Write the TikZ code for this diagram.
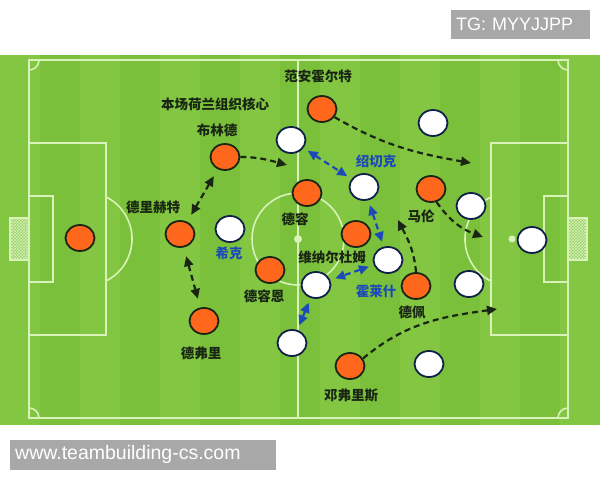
\documentclass[tikz,border=0pt]{standalone}
\usepackage{fontspec}
\setmainfont{Liberation Sans}
\newfontfamily\cjk{Noto Sans CJK SC}
\usetikzlibrary{arrows.meta}
\usetikzlibrary{shapes.geometric}
\usetikzlibrary{patterns}

\definecolor{rasen}{RGB}{122,192,58}
\definecolor{rasenb}{RGB}{130,198,66}
\definecolor{lijn}{RGB}{216,242,186}
\definecolor{net}{RGB}{150,208,100}
\definecolor{oranje}{RGB}{255,104,28}
\definecolor{donker}{RGB}{26,38,20}
\definecolor{navy}{RGB}{16,32,72}
\definecolor{blauw}{RGB}{28,74,184}
\definecolor{grijs}{RGB}{168,168,168}

\begin{document}
\begin{tikzpicture}[x=1pt,y=1pt,
  ned/.style={ellipse,draw=donker,line width=1.8pt,fill=oranje,
              minimum width=29pt,minimum height=26pt,inner sep=0pt},
  cze/.style={ned,draw=navy,fill=white},
  naam/.style={text=donker,inner sep=0pt,
               font=\cjk\bfseries\fontsize{13.5}{14}\selectfont},
  naamcz/.style={naam,text=blauw},
  lijnen/.style={draw=lijn,line width=1.6pt},
  kader/.style={fill=grijs,text=white,inner ysep=0pt,inner xsep=5pt,
                align=left,anchor=south west}]
\useasboundingbox (0,0) rectangle (600,480);
\fill[white] (0,0) rectangle (600,480);

% veld
\fill[rasen] (0,55) rectangle (600,425);
\foreach \i in {0,2,...,14}
  \fill[rasenb] (\i*40,55) rectangle ++(40,370);

\begin{scope}[lijnen]
    \draw (29,62) rectangle (568,420);
    \draw (298,62) -- (298,420);
    \draw (298,241) circle (46);
    \draw (29,145) rectangle (106,337);
    \draw (29,198) rectangle (53,284);
    \draw (568,145) rectangle (491,337);
    \draw (568,198) rectangle (544,284);
    \draw (106,199) arc[start angle=-63.5,end angle=63.5,radius=47];
    \draw (491,283) arc[start angle=116.5,end angle=243.5,radius=47];
    \draw (39,62) arc[start angle=0,end angle=90,radius=10];
    \draw (29,410) arc[start angle=-90,end angle=0,radius=10];
    \draw (558,420) arc[start angle=180,end angle=270,radius=10];
    \draw (568,72) arc[start angle=90,end angle=180,radius=10];
    \filldraw[fill=net] (10,220) rectangle (29,262);
    \filldraw[fill=net] (568,220) rectangle (587,262);
    \fill[pattern=crosshatch,pattern color=lijn] (10,220) rectangle (29,262);
    \fill[pattern=crosshatch,pattern color=lijn] (568,220) rectangle (587,262);
    \fill[lijn] (298,241) circle (4);
    \fill[lijn] (85,241) circle (3.5);
    \fill[lijn] (512,241) circle (3.5);
\end{scope}

% watermerken
\node[kader,text width=129pt,minimum height=29pt,
      font=\fontsize{18}{18}\selectfont] (tg) at (451,441) {TG: MYYJJPP};
\node[kader,text width=256pt,minimum height=30pt,
      font=\fontsize{19.5}{20}\selectfont] (site) at (10,10) {www.teambuilding-cs.com};

% Nederland
\begin{scope}[every node/.style={ned}]
    \node (keeper) at (80,242) {};
    \node (blind) at (225,323) {};
    \node (deligt) at (180,246) {};
    \node (devrij) at (204,159) {};
    \node (aanholt) at (322,371) {};
    \node (frenkie) at (307,287) {};
    \node (gini) at (356,246) {};
    \node (deroon) at (270,210) {};
    \node (malen) at (431,291) {};
    \node (depay) at (416,194) {};
    \node (dumfries) at (350,114) {};
\end{scope}

% Tsjechie
\begin{scope}[every node/.style={cze}]
    \node (wa) at (291,340) {};
    \node (schick) at (230,251) {};
    \node (wb) at (433,357) {};
    \node (soucek) at (364,293) {};
    \node (wc) at (471,274) {};
    \node (wgk) at (532,240) {};
    \node (holes) at (388,220) {};
    \node (wd) at (316,195) {};
    \node (we) at (469,196) {};
    \node (wf) at (292,137) {};
    \node (wg) at (429,116) {};
\end{scope}

% namen
\node[naam] (t1) at (318,404) {范安霍尔特};
\node[naam] (t2) at (215,376) {本场荷兰组织核心};
\node[naam] (t3) at (217,350) {布林德};
\node[naam] (t4) at (153,273) {德里赫特};
\node[naamcz] (t5) at (229,227) {希克};
\node[naam] (t6) at (295,261) {德容};
\node[naam] (t7) at (264,184) {德容恩};
\node[naam] (t8) at (332,223) {维纳尔杜姆};
\node[naamcz] (t9) at (376,319) {绍切克};
\node[naam] (t10) at (421,264) {马伦};
\node[naamcz] (t11) at (376,189) {霍莱什};
\node[naam] (t12) at (412,168) {德佩};
\node[naam] (t13) at (201,127) {德弗里};
\node[naam] (t14) at (351,85) {邓弗里斯};

\coordinate (a1) at (287,315);
\coordinate (d1) at (471,317);
\coordinate (e1) at (483,243);
\coordinate (f1) at (398,260);
\coordinate (g1) at (497,171);

\begin{scope}[>={Triangle[length=10pt,width=9pt]},
              every edge/.style={draw=donker,line width=2.2pt,
                                 dash pattern=on 6pt off 4pt}]
    \path [->] (blind.east) edge[out=0,in=165] (a1);
    \path [->] (aanholt.-33) edge[out=-30,in=170] (d1);
    \path [->] (malen.-67) edge[out=-55,in=160] (e1);
    \path [->] (depay.north) edge[out=95,in=-63] (f1);
    \path [->] (dumfries.30) edge[out=40,in=188] (g1);
    \path [<->,shorten <=8pt,shorten >=8pt] (deligt) edge (blind);
    \path [<->,shorten <=9pt,shorten >=9pt] (deligt) edge (devrij);
\end{scope}

\begin{scope}[>={Triangle[length=10pt,width=9pt]},
              every edge/.style={draw=blauw,line width=2.2pt,
                                 dash pattern=on 6pt off 4pt,
                                 shorten <=5pt,shorten >=5pt}]
    \path [<->] (wa) edge (soucek);
    \path [<->] (soucek) edge (holes);
    \path [<->] (holes) edge (wd);
    \path [<->] (wd) edge (wf);
\end{scope}
\end{tikzpicture}
\end{document}
